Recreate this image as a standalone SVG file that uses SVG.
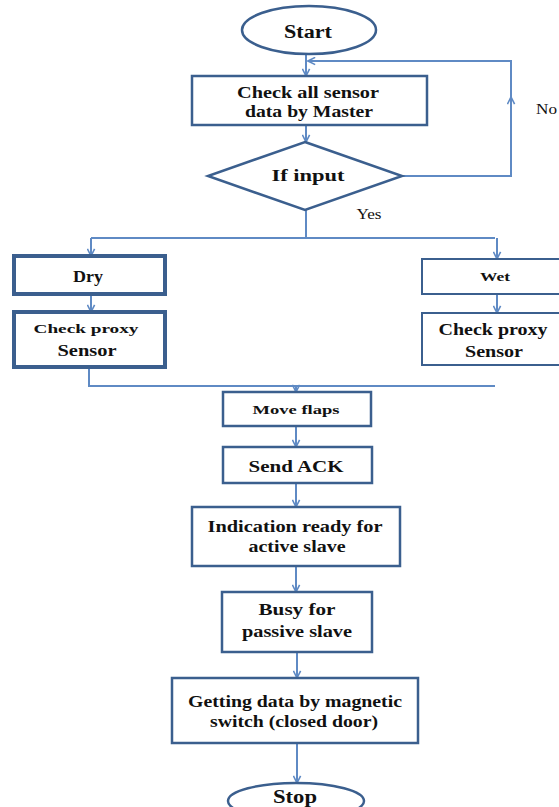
<svg xmlns="http://www.w3.org/2000/svg" width="559" height="807" viewBox="0 0 559 807">
<style>
.box{fill:#fff;stroke:#3b5f8e;stroke-width:2.5}
.thick{stroke-width:4}
.thin{stroke-width:2}
.ln{fill:none;stroke:#5f8ac4;stroke-width:2}
.arr{marker-end:url(#ah)}
text{font-family:"Liberation Serif","Times New Roman",serif;font-weight:bold;fill:#111;text-anchor:middle;font-size:16px}
.big{font-size:18px}
.sm{font-size:13px}
.lbl{font-size:14px;font-weight:normal}
</style>
<defs>
<marker id="ah" viewBox="0 0 10 10" refX="9" refY="5" markerWidth="9" markerHeight="9" markerUnits="userSpaceOnUse" orient="auto">
<path d="M1,1 L9,5 L1,9" fill="none" stroke="#5f8ac4" stroke-width="1.8"/>
</marker>
</defs>
<g id="connectors">
<path class="ln arr" d="M306,54 V76"/>
<path class="ln arr" d="M306,125 V142"/>
<path class="ln arr" d="M402,176 H511 V97"/>
<path class="ln arr" d="M511,97 V61 H308"/>
<path class="ln" d="M306,210 V238"/>
<path class="ln" d="M91,238 H495"/>
<path class="ln arr" d="M91,238 V256"/>
<path class="ln arr" d="M497,238 V259"/>
<path class="ln arr" d="M91,294 V312"/>
<path class="ln arr" d="M497,294 V313"/>
<path class="ln" d="M89,367 V386 H495"/>
<path class="ln arr" d="M296,386 V392"/>
<path class="ln arr" d="M296,426 V447"/>
<path class="ln arr" d="M296,483 V507"/>
<path class="ln arr" d="M296,566 V592"/>
<path class="ln arr" d="M297,652 V678"/>
<path class="ln arr" d="M297,743 V783"/>
</g>
<g id="start">
<ellipse class="box" cx="309" cy="30" rx="67" ry="24"/>
<text class="big" x="308" y="38" textLength="48" lengthAdjust="spacingAndGlyphs">Start</text>
</g>
<g id="check-all">
<rect class="box" x="192" y="76" width="235" height="49"/>
<text x="308" y="98" textLength="142" lengthAdjust="spacingAndGlyphs">Check all sensor</text>
<text x="309" y="117" textLength="128" lengthAdjust="spacingAndGlyphs">data by Master</text>
</g>
<g id="if-input">
<polygon class="box" points="305,142 402,176 305,210 208,176"/>
<text x="308" y="181" textLength="73" lengthAdjust="spacingAndGlyphs">If input</text>
</g>
<g id="label-no"><text class="lbl" x="536" y="114" style="text-anchor:start" textLength="21" lengthAdjust="spacingAndGlyphs">No</text></g>
<g id="label-yes"><text class="lbl" x="369" y="219" textLength="25" lengthAdjust="spacingAndGlyphs">Yes</text></g>
<g id="dry">
<rect class="box thick" x="14" y="256" width="151" height="38"/>
<text x="88" y="282" textLength="30" lengthAdjust="spacingAndGlyphs">Dry</text>
</g>
<g id="dry-check">
<rect class="box thick" x="14" y="312" width="151" height="55"/>
<text class="sm" x="86" y="333" textLength="105" lengthAdjust="spacingAndGlyphs">Check proxy</text>
<text x="87" y="356" textLength="59" lengthAdjust="spacingAndGlyphs">Sensor</text>
</g>
<g id="wet">
<rect class="box thin" x="422" y="259" width="146" height="35"/>
<text class="sm" x="495" y="281" textLength="30" lengthAdjust="spacingAndGlyphs">Wet</text>
</g>
<g id="wet-check">
<rect class="box thin" x="422" y="313" width="146" height="52"/>
<text x="493" y="335" textLength="109" lengthAdjust="spacingAndGlyphs">Check proxy</text>
<text x="494" y="357" textLength="58" lengthAdjust="spacingAndGlyphs">Sensor</text>
</g>
<g id="move-flaps">
<rect class="box" x="223" y="392" width="148" height="34"/>
<text class="sm" x="296" y="414" textLength="87" lengthAdjust="spacingAndGlyphs">Move flaps</text>
</g>
<g id="send-ack">
<rect class="box" x="223" y="447" width="149" height="36"/>
<text x="296" y="472" textLength="95" lengthAdjust="spacingAndGlyphs">Send ACK</text>
</g>
<g id="indication">
<rect class="box" x="192" y="507" width="208" height="59"/>
<text x="295" y="532" textLength="175" lengthAdjust="spacingAndGlyphs">Indication ready for</text>
<text x="297" y="552" textLength="97" lengthAdjust="spacingAndGlyphs">active slave</text>
</g>
<g id="busy">
<rect class="box" x="222" y="592" width="150" height="60"/>
<text x="297" y="615" textLength="77" lengthAdjust="spacingAndGlyphs">Busy for</text>
<text x="297" y="637" textLength="110" lengthAdjust="spacingAndGlyphs">passive slave</text>
</g>
<g id="getting-data">
<rect class="box" x="172" y="678" width="246" height="65"/>
<text x="295" y="707" textLength="214" lengthAdjust="spacingAndGlyphs">Getting data by magnetic</text>
<text x="294" y="727" textLength="168" lengthAdjust="spacingAndGlyphs">switch (closed  door)</text>
</g>
<g id="stop">
<ellipse class="box" cx="296" cy="801" rx="68" ry="18"/>
<text class="big" x="295" y="803" textLength="44" lengthAdjust="spacingAndGlyphs">Stop</text>
</g>
</svg>
